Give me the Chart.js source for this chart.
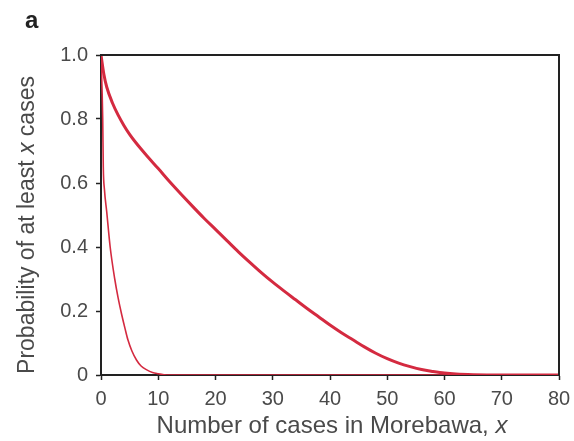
<!DOCTYPE html>
<html>
<head>
<meta charset="utf-8">
<script src="https://cdn.jsdelivr.net/npm/chart.js@4.4.1/dist/chart.umd.min.js"></script>
<style>
  html, body { margin: 0; padding: 0; background: #fff; }
  #wrap { width: 574px; height: 441px; }
</style>
</head>
<body>
<div id="wrap"><canvas id="grafica"></canvas></div>
<script>
// curva gruesa (eje x = casos, eje y = probabilidad)
const xGruesa = [0, 0.5, 1, 2, 3, 4, 5, 6, 7, 8, 10, 12, 14, 16, 18, 20, 22, 24, 26, 28, 30, 32, 34, 36, 38, 40, 42, 44, 46, 48, 50, 52, 54, 56, 58, 60, 62, 65, 70, 80]
const yGruesa = [1.0, 0.94, 0.90, 0.85, 0.812, 0.78, 0.752, 0.728, 0.706, 0.685, 0.645, 0.604, 0.565, 0.527, 0.49, 0.455, 0.42, 0.385, 0.352, 0.32, 0.29, 0.262, 0.235, 0.208, 0.182, 0.156, 0.132, 0.11, 0.088, 0.068, 0.051, 0.037, 0.026, 0.017, 0.011, 0.006, 0.003, 0.001, 0, 0]

// curva delgada
const xDelgada = [0, 0.3, 0.4, 0.6, 1, 1.6, 2.4, 3, 3.6, 4.2, 4.7, 5.4, 6.2, 7, 8, 9, 10, 11, 12, 80]
const yDelgada = [1.0, 0.80, 0.65, 0.58, 0.51, 0.40, 0.30, 0.24, 0.19, 0.145, 0.11, 0.075, 0.047, 0.028, 0.016, 0.008, 0.004, 0.001, 0, 0]

const ticksX = [0, 10, 20, 30, 40, 50, 60, 70, 80]
const ticksY = [0, 0.2, 0.4, 0.6, 0.8, 1.0]

const tituloX = ['Number of cases in Morebawa, ', 'x']
const tituloY = ['Probability of at least ', 'x', ' cases']

const fuente = 'Arial, "Liberation Sans", Helvetica, sans-serif'
const grisTexto = '#4a4a4a'
const rojo = '#d42a40'

const pares = (xs, ys) => xs.map((x, i) => ({ x, y: ys[i] }))

// marco, etiquetas de ejes con la x en cursiva y letra del panel
const extras = {
  id: 'extras',
  afterDraw(chart) {
    const { ctx, chartArea: a } = chart
    ctx.save()
    ctx.strokeStyle = '#222'
    ctx.lineWidth = 2
    ctx.beginPath()
    ctx.moveTo(a.left, a.top)
    ctx.lineTo(a.right, a.top)
    ctx.lineTo(a.right, a.bottom)
    ctx.stroke()

    const trozos = (partes, cx, cy, rot, tam) => {
      const fn = p => (p === 'x' ? 'italic ' : '') + tam + 'px ' + fuente
      let total = 0
      partes.forEach(p => { ctx.font = fn(p); total += ctx.measureText(p).width })
      ctx.save()
      ctx.translate(cx, cy)
      ctx.rotate(rot)
      ctx.fillStyle = grisTexto
      ctx.textBaseline = 'middle'
      ctx.textAlign = 'left'
      let pos = -total / 2
      partes.forEach(p => { ctx.font = fn(p); ctx.fillText(p, pos, 0); pos += ctx.measureText(p).width })
      ctx.restore()
    }
    trozos(tituloX, 332, 426, 0, 24)
    trozos(tituloY, 28, 225, -Math.PI / 2, 23)

    ctx.fillStyle = '#222'
    ctx.font = 'bold 24px ' + fuente
    ctx.textAlign = 'left'
    ctx.textBaseline = 'middle'
    ctx.fillText('a', 25, 21)
    ctx.restore()
  }
}

new Chart(document.getElementById('grafica'), {
  type: 'line',
  data: {
    datasets: [
      { data: pares(xGruesa, yGruesa), borderColor: rojo, borderWidth: 3, pointRadius: 0, cubicInterpolationMode: 'monotone', fill: false },
      { data: pares(xDelgada, yDelgada), borderColor: rojo, borderWidth: 1.6, pointRadius: 0, cubicInterpolationMode: 'monotone', fill: false }
    ]
  },
  options: {
    responsive: true,
    maintainAspectRatio: false,
    animation: false,
    layout: { padding: { top: 55, right: 15, left: 0, bottom: 0 } },
    plugins: { legend: { display: false }, tooltip: { enabled: false } },
    scales: {
      x: {
        type: 'linear',
        min: 0,
        max: 80,
        afterBuildTicks: s => { s.ticks = ticksX.map(v => ({ value: v })) },
        afterFit: s => { s.height = 66; s.paddingLeft = 0; s.paddingRight = 0 },
        border: { display: true, color: '#222', width: 2 },
        grid: { drawOnChartArea: false, tickLength: 5, color: '#222', tickWidth: 1.5 },
        ticks: { color: grisTexto, font: { family: fuente, size: 20 }, padding: 7, maxRotation: 0, callback: v => String(v) }
      },
      y: {
        type: 'linear',
        min: 0,
        max: 1,
        afterBuildTicks: s => { s.ticks = ticksY.map(v => ({ value: v })) },
        afterFit: s => { s.width = 101; s.paddingTop = 0; s.paddingBottom = 0 },
        border: { display: true, color: '#222', width: 2 },
        grid: { drawOnChartArea: false, tickLength: 5, color: '#222', tickWidth: 1.5 },
        ticks: { color: grisTexto, font: { family: fuente, size: 20 }, padding: 8, callback: v => v === 0 ? '0' : v.toFixed(1) }
      }
    }
  },
  plugins: [extras]
})
</script>
</body>
</html>
